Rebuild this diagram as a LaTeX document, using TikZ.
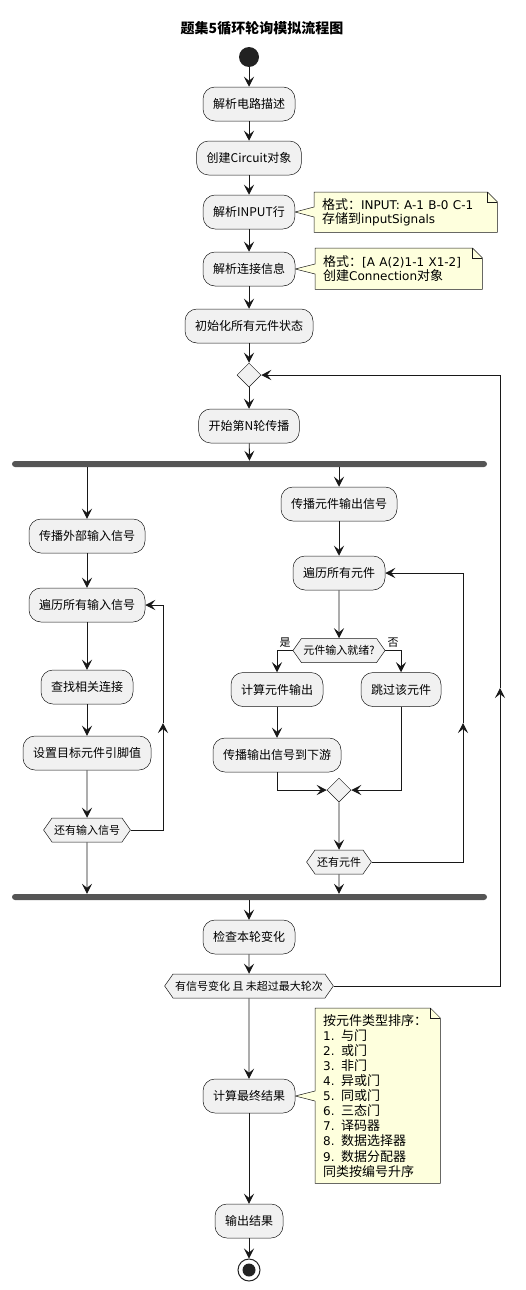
\documentclass[tikz,border=0pt]{standalone}
\usepackage{fontspec}
\setmainfont{Noto Sans CJK SC}
\newfontfamily\dvfont{DejaVu Sans}
\newcommand{\lat}[1]{{\dvfont\fontsize{12}{14}\selectfont #1}}
\usetikzlibrary{arrows.meta,shapes.geometric,shapes.symbols,calc}
\pgfdeclarelayer{background}
\pgfsetlayers{background,main}
\definecolor{boxfill}{HTML}{F1F1F1}
\definecolor{edgec}{HTML}{181818}
\definecolor{notefill}{HTML}{FEFFDD}
\definecolor{barfill}{HTML}{555555}
\definecolor{dotc}{HTML}{222222}
\tikzset{
 act/.style={draw=edgec, line width=0.5pt, fill=boxfill, rounded corners=12pt, minimum height=34pt, inner xsep=10pt, inner ysep=0pt, font=\fontsize{12}{14}\selectfont},
 hex/.style={signal, signal to=west and east, signal pointer angle=110, draw=edgec, line width=0.5pt, fill=boxfill, minimum height=24pt, inner xsep=2pt, inner ysep=0pt, font=\fontsize{11}{13}\selectfont},
 merge/.style={diamond, draw=edgec, line width=0.5pt, fill=boxfill, minimum width=24pt, minimum height=24pt, inner sep=0pt},
 bar/.style={fill=barfill, rounded corners=3pt, minimum height=6pt, inner sep=0pt},
 arr/.style={draw=edgec, line width=0.9pt, -{Stealth[length=10pt,width=10pt,inset=4pt]}},
 ln/.style={draw=edgec, line width=0.9pt},
 notetext/.style={align=left, inner xsep=8pt, inner ysep=4pt, anchor=north west},
 noteshape/.style={draw=edgec, line width=0.5pt, fill=notefill, line join=miter},
 lbl/.style={font=\fontsize{11}{13}\selectfont, inner sep=1pt},
}
\begin{document}
\begin{tikzpicture}[x=1pt,y=-1pt]
\useasboundingbox (0,0) rectangle (526,1290);
\node[font=\bfseries\fontsize{14}{16}\selectfont] (title) at (262,28) {题集5循环轮询模拟流程图};
\node[circle, fill=dotc, minimum size=20pt, inner sep=0pt] (start) at (249,57) {};
\node[act] (b1) at (249,104) {解析电路描述};
\node[act] (b2) at (249,158) {创建Circuit对象};
\node[act] (b3) at (249,212) {解析INPUT行};
\node[act] (b4) at (249,269) {解析连接信息};
\node[act] (b5) at (249,326) {初始化所有元件状态};
\node[merge] (m1) at (249,375) {};
\node[act] (b6) at (249,426) {开始第N轮传播};
\node[bar, minimum width=475pt] (fork) at (249.5,464) {};
\node[act] (L1) at (87,536) {传播外部输入信号};
\node[act] (L2) at (87,605) {遍历所有输入信号};
\node[act] (L3) at (87,687) {查找相关连接};
\node[act] (L4) at (87,753) {设置目标元件引脚值};
\node[hex] (Lh) at (87,830) {还有输入信号};
\node[act] (R1) at (339,504) {传播元件输出信号};
\node[act] (R2) at (339,573) {遍历所有元件};
\node[hex] (Rd) at (339,650.5) {元件输入就绪?};
\node[act] (Ry) at (277,689.5) {计算元件输出};
\node[act] (Ry2) at (277,755) {传播输出信号到下游};
\node[act] (Rn) at (401,689.5) {跳过该元件};
\node[merge] (m2) at (339,790) {};
\node[hex] (Rh) at (339,862) {还有元件};
\node[bar, minimum width=475pt] (join) at (249.5,897) {};
\node[act] (c1) at (249,937) {检查本轮变化};
\node[hex] (h1) at (249,986) {有信号变化 且 未超过最大轮次};
\node[act] (c2) at (249,1096) {计算最终结果};
\node[act] (c3) at (249,1221) {输出结果};
\node[circle, draw=dotc, line width=1pt, fill=white, minimum size=22pt, inner sep=0pt] (stop) at (249,1270) {};
\node[circle, fill=dotc, minimum size=13pt, inner sep=0pt] (stopin) at (stop) {};
\node[lbl, anchor=south] (yes) at (285,649) {是};
\node[lbl, anchor=south] (no) at (393,649) {否};
\coordinate (loopL) at (163,723);
\coordinate (loopR) at (463,723);
\coordinate (loopO) at (500,688);
% notes
\node[notetext, text width=167pt, minimum height=40pt, font=\fontsize{13}{14}\selectfont] (n1) at (314,192) {格式：\lat{INPUT: A-1 B-0 C-1}\\存储到\lat{inputSignals}};
\node[notetext, text width=151pt, minimum height=41pt, font=\fontsize{13}{14}\selectfont] (n2) at (315,248) {格式：\lat{[A A(2)1-1 X1-2]}\\创建\lat{Connection}对象};
\node[notetext, text width=109pt, minimum height=175pt, font=\fontsize{13}{15.1}\selectfont] (n3) at (315,1008) {按元件类型排序：\\\lat{1. }与门\\\lat{2. }或门\\\lat{3. }非门\\\lat{4. }异或门\\\lat{5. }同或门\\\lat{6. }三态门\\\lat{7. }译码器\\\lat{8. }数据选择器\\\lat{9. }数据分配器\\同类按编号升序};
\begin{pgfonlayer}{background}
\foreach \n/\b in {n1/b3, n2/b4, n3/c2}{
  \filldraw[noteshape] (\n.north west) -- ([xshift=-10pt]\n.north east) -- ([yshift=-10pt]\n.north east) -- (\n.south east) -- (\n.south west) -- ($(\n.west |- \b.east)+(0,5)$) -- (\b.east) -- ($(\n.west |- \b.east)+(0,-5)$) -- cycle;
  \draw[noteshape, fill=none] ([xshift=-10pt]\n.north east) -- ++(0,10) -- ([yshift=-10pt]\n.north east);
}
\end{pgfonlayer}
% edges
\draw[arr] (start) -- (b1);
\draw[arr] (b1) -- (b2);
\draw[arr] (b2) -- (b3);
\draw[arr] (b3) -- (b4);
\draw[arr] (b4) -- (b5);
\draw[arr] (b5) -- (m1);
\draw[arr] (m1) -- (b6);
\draw[arr] (b6) -- (fork);
\draw[arr] (fork.south -| L1) -- (L1);
\draw[arr] (L1) -- (L2);
\draw[arr] (L2) -- (L3);
\draw[arr] (L3) -- (L4);
\draw[arr] (L4) -- (Lh);
\draw[arr] (Lh.east) -| (loopL);
\draw[arr] (loopL) |- (L2.east);
\draw[arr] (Lh) -- (Lh |- join.north);
\draw[arr] (fork.south -| R1) -- (R1);
\draw[arr] (R1) -- (R2);
\draw[arr] (R2) -- (Rd);
\draw[arr] (Rd.west) -| (Ry);
\draw[arr] (Rd.east) -| (Rn);
\draw[arr] (Ry) -- (Ry2);
\draw[arr] (Ry2.south) |- (m2.west);
\draw[arr] (Rn.south) |- (m2.east);
\draw[arr] (m2) -- (Rh);
\draw[arr] (Rh.east) -| (loopR);
\draw[arr] (loopR) |- (R2.east);
\draw[arr] (Rh) -- (Rh |- join.north);
\draw[arr] (join.south -| c1) -- (c1);
\draw[arr] (c1) -- (h1);
\draw[arr] (h1.east) -| (loopO);
\draw[arr] (loopO) |- (m1.east);
\draw[arr] (h1) -- (c2);
\draw[arr] (c2) -- (c3);
\draw[arr] (c3) -- (stop);
\end{tikzpicture}
\end{document}
